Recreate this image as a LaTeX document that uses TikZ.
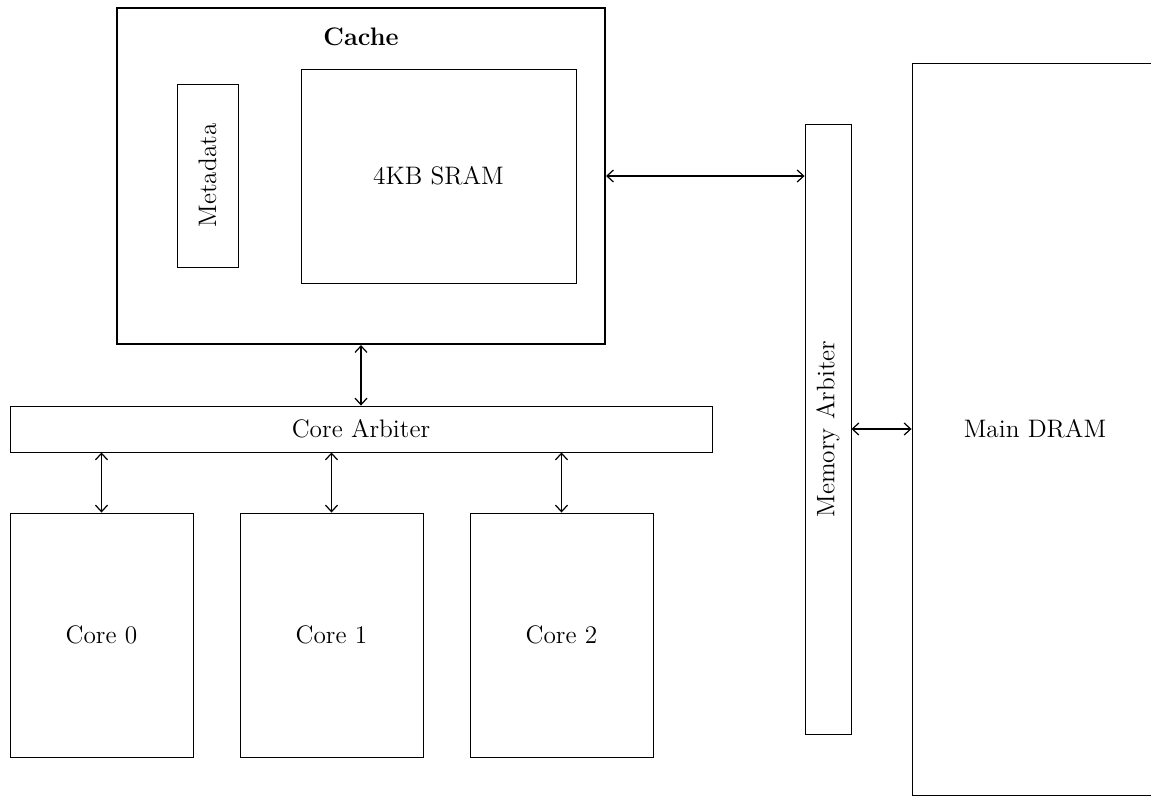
\documentclass[tikz,border=0pt]{standalone}
\usepackage{tikz}
\usetikzlibrary{arrows.meta}
\tikzstyle{every node}=[font=\Large]
\tikzstyle{block}=[draw,line width=0.5pt,inner sep=0pt,align=center]
\tikzstyle{link}=[{Straight Barb[length=1.3mm,width=2.4mm]}-{Straight Barb[length=1.3mm,width=2.4mm]},line width=0.7pt]

\begin{document}
\begin{tikzpicture}
% Cache, arbiters, cores and memory
	\useasboundingbox (0,0) rectangle (23.02,-15.96);
	\newcommand\corewidth{3.66} %width of core blocks
	\newcommand\coreheight{4.88} %height of core blocks
	\node[block,line width=1.2pt,minimum width=9.76cm,minimum height=6.72cm] (cache) at (7.22,-3.52) {}; %% outer cache box
	\node[font=\Large\bfseries] (cachetitle) at (7.22,-0.74) {Cache};
	\node[block,rotate=90,minimum width=3.66cm,minimum height=1.22cm] (meta) at (4.15,-3.51) {Metadata};
	\node[block,minimum width=5.5cm,minimum height=4.28cm] (sram) at (8.77,-3.52) {4KB SRAM};
	\node[block,minimum width=14.04cm,minimum height=0.92cm] (corearb) at (7.22,-8.58) {Core Arbiter};
	\node[block,minimum width=\corewidth cm,minimum height=\coreheight cm] (core0) at (2.03,-12.7) {Core 0};
	\node[block,minimum width=\corewidth cm,minimum height=\coreheight cm] (core1) at (6.63,-12.7) {Core 1};
	\node[block,minimum width=\corewidth cm,minimum height=\coreheight cm] (core2) at (11.23,-12.7) {Core 2};
	\node[block,rotate=90,minimum width=12.2cm,minimum height=0.92cm] (memarb) at (16.56,-8.58) {Memory Arbiter};
	\node[block,minimum width=4.92cm,minimum height=14.64cm] (dram) at (20.70,-8.58) {Main DRAM}; %% right side runs off the page
	\draw[link] (cache.south) -- (corearb.north);
	\draw[link] (sram.east -| cache.east) -- (sram.east -| memarb.north); %% memarb is rotated, its north is the left side
	\draw[link] (memarb.south) -- (dram.west);
	\draw[link] (core0.north |- corearb.south) -- (core0.north);
	\draw[link] (core1.north |- corearb.south) -- (core1.north);
	\draw[link] (core2.north |- corearb.south) -- (core2.north);
\end{tikzpicture}
\end{document}
